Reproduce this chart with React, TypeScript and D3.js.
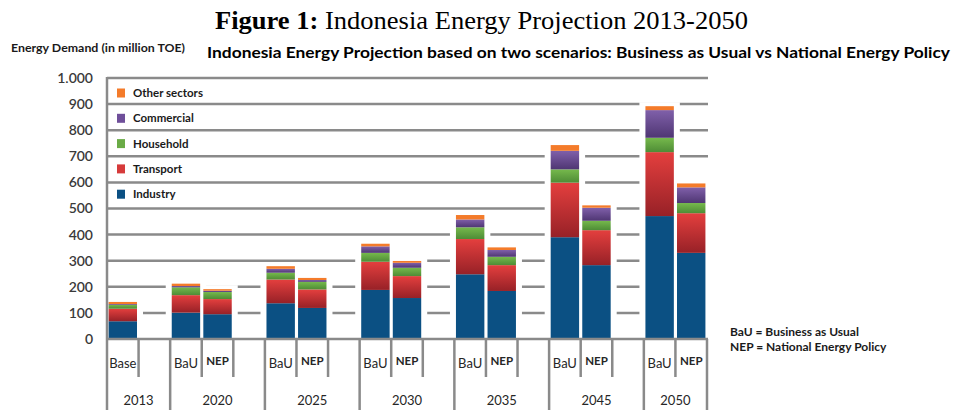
import { useEffect, useRef } from 'react';
import * as d3 from 'd3';

const years = ['2013', '2020', '2025', '2030', '2035', '2045', '2050'];
// scenario slots under each year, '' marks an empty spacer slot
const yearSlots = [
  ['Base', ''],
  ['BaU', 'NEP', ''],
  ['BaU', 'NEP', ''],
  ['BaU', 'NEP', ''],
  ['BaU', 'NEP', ''],
  ['BaU', 'NEP', ''],
  ['BaU', 'NEP'],
];

const barKeys = [
  '2013 Base', '2020 BaU', '2020 NEP', '2025 BaU', '2025 NEP', '2030 BaU', '2030 NEP',
  '2035 BaU', '2035 NEP', '2045 BaU', '2045 NEP', '2050 BaU', '2050 NEP',
];
const industry = [68, 101, 95, 137, 119, 188, 157, 248, 184, 390, 283, 471, 330];
const transport = [48, 67, 58, 91, 71, 108, 84, 135, 99, 209, 134, 245, 152];
const household = [15, 30, 27, 26, 29, 34, 32, 45, 32, 51, 36, 55, 39];
const commercial = [3, 5, 5, 15, 7, 25, 19, 30, 26, 71, 50, 106, 60];
const otherSectors = [8, 9, 6, 10, 8, 10, 7, 17, 10, 22, 9, 15, 15];

const sectors = ['Industry', 'Transport', 'Household', 'Commercial', 'Other sectors'];
const sectorValues = [industry, transport, household, commercial, otherSectors];
const sectorSwatch = ['#0b5083', '#d63a3a', '#6aab46', '#6f4f9a', '#f47b2a'];
const sectorTop = ['#0b5083', '#e43f3e', '#76b94c', '#8060aa', '#f47b2a'];
const sectorBottom = ['#0b5083', '#972127', '#4e8c36', '#4f3673', '#f47b2a'];

const yTicks = [0, 100, 200, 300, 400, 500, 600, 700, 800, 900, 1000];

const FONT = 'Lato, "Open Sans", sans-serif';
const GRID = '#8a8a8a';

export default function App() {
  const svgRef = useRef<SVGSVGElement>(null);
  const width = 954;
  const height = 410;

  useEffect(() => {
    if (!svgRef.current) return;
    const svg = d3.select(svgRef.current);
    svg.selectAll('*').remove();

    const slots: { key: string; year: string; label: string; yi: number; si: number }[] = [];
    years.forEach((y, yi) =>
      yearSlots[yi].forEach((s, si) =>
        slots.push({ key: s ? `${y} ${s}` : `${y} _${si}`, year: y, label: s, yi, si })
      )
    );

    const x = d3.scaleBand().domain(slots.map(d => d.key)).range([107, 707]).padding(0);
    const y = d3.scaleLinear().domain([0, 1000]).range([339, 78]);
    const fmt = d3.formatLocale({ decimal: ',', thousands: '.', grouping: [3], currency: ['', ''] }).format(',');

    // gradients
    const defs = svg.append('defs');
    sectors.forEach((s, i) => {
      const g = defs.append('linearGradient')
        .attr('id', `grad${i}`)
        .attr('x1', 0).attr('y1', 0).attr('x2', 0).attr('y2', 1);
      g.append('stop').attr('offset', '0%').attr('stop-color', sectorTop[i]);
      g.append('stop').attr('offset', '100%').attr('stop-color', sectorBottom[i]);
    });

    // gridlines
    svg.append('g')
      .selectAll('line')
      .data(yTicks.filter(t => t > 0))
      .enter().append('line')
      .attr('x1', 107).attr('x2', 708)
      .attr('y1', d => y(d)).attr('y2', d => y(d))
      .attr('stroke', GRID).attr('stroke-width', 2.5);

    // stacked data
    const rows = barKeys.map((k, i) => {
      const r: any = { key: k };
      sectors.forEach((s, j) => { r[s] = sectorValues[j][i]; });
      return r;
    });
    const stacked = d3.stack().keys(sectors)(rows);
    const bw = x.bandwidth() * 0.9;
    const off = (x.bandwidth() - bw) / 2;

    // white halo behind bars
    svg.append('g')
      .selectAll('rect')
      .data(rows)
      .enter().append('rect')
      .attr('x', d => (x(d.key) || 0) + off - 6)
      .attr('width', bw + 12)
      .attr('y', (d, i) => y(stacked[stacked.length - 1][i][1]) - 4)
      .attr('height', (d, i) => y(0) - y(stacked[stacked.length - 1][i][1]) + 4)
      .attr('fill', '#fff');

    const layers = svg.append('g');
    stacked.forEach((layer, li) => {
      layers.append('g')
        .attr('fill', `url(#grad${li})`)
        .selectAll('rect')
        .data(layer)
        .enter().append('rect')
        .attr('x', d => (x(d.data.key as string) || 0) + off)
        .attr('width', bw)
        .attr('y', d => y(d[1]))
        .attr('height', d => y(d[0]) - y(d[1]));
    });

    // axes
    svg.append('line')
      .attr('x1', 107).attr('x2', 107).attr('y1', y(1000) - 1).attr('y2', height)
      .attr('stroke', GRID).attr('stroke-width', 2.5);
    svg.append('line')
      .attr('x1', 107).attr('x2', 708).attr('y1', y(0)).attr('y2', y(0))
      .attr('stroke', GRID).attr('stroke-width', 2.5);

    // separators under the axis
    const sepG = svg.append('g').attr('stroke', GRID).attr('stroke-width', 2.5);
    slots.forEach(s => {
      const xr = (x(s.key) || 0) + x.bandwidth();
      const last = s.si === yearSlots[s.yi].length - 1;
      sepG.append('line')
        .attr('x1', xr).attr('x2', xr)
        .attr('y1', y(0)).attr('y2', last ? height : 377);
    });

    // scenario labels
    svg.append('g')
      .selectAll('text')
      .data(slots.filter(s => s.label))
      .enter().append('text')
      .attr('x', d => (x(d.key) || 0) + x.bandwidth() / 2)
      .attr('y', d => (d.label === 'NEP' ? 361 : 363))
      .attr('dy', '0.35em')
      .attr('text-anchor', 'middle')
      .attr('font-family', FONT)
      .attr('font-size', d => (d.label === 'NEP' ? 11.5 : 13))
      .attr('font-weight', d => (d.label === 'NEP' ? 700 : 400))
      .attr('fill', '#262626')
      .text(d => d.label);

    // year labels
    svg.append('g')
      .selectAll('text')
      .data(years)
      .enter().append('text')
      .attr('x', (d, i) => {
        const ks = slots.filter(s => s.yi === i);
        const x0 = x(ks[0].key) || 0;
        const x1 = (x(ks[ks.length - 1].key) || 0) + x.bandwidth();
        return (x0 + x1) / 2;
      })
      .attr('y', 400)
      .attr('dy', '0.35em')
      .attr('text-anchor', 'middle')
      .attr('font-family', FONT)
      .attr('font-size', 13)
      .attr('fill', '#262626')
      .text(d => d);

    // y tick labels
    svg.append('g')
      .selectAll('text')
      .data(yTicks)
      .enter().append('text')
      .attr('x', 93)
      .attr('y', d => y(d))
      .attr('dy', '0.35em')
      .attr('text-anchor', 'end')
      .attr('font-family', FONT)
      .attr('font-size', 14)
      .attr('font-weight', 600)
      .attr('fill', '#3a3a3a')
      .text(d => fmt(d));

    // legend (top to bottom: reverse of stacking)
    const legend = svg.append('g');
    sectors.slice().reverse().forEach((s, i) => {
      const si = sectors.length - 1 - i;
      const cy = 93 + i * 25.3;
      legend.append('rect')
        .attr('x', 117).attr('y', cy - 4.5).attr('width', 8).attr('height', 9)
        .attr('fill', sectorSwatch[si]);
      legend.append('text')
        .attr('x', 133).attr('y', cy)
        .attr('dy', '0.35em')
        .attr('font-family', FONT)
        .attr('font-size', 11.5)
        .attr('font-weight', 700)
        .attr('fill', '#1a1a1a')
        .text(s);
    });

    // titles
    const t = svg.append('text')
      .attr('x', 215).attr('y', 29)
      .attr('font-family', '"Liberation Serif", "Times New Roman", serif')
      .attr('font-size', 25)
      .attr('fill', '#000')
      .attr('textLength', 533)
      .attr('lengthAdjust', 'spacingAndGlyphs');
    t.append('tspan').attr('font-weight', 700).text('Figure 1:');
    t.append('tspan').text(' Indonesia Energy Projection 2013-2050');

    svg.append('text')
      .attr('x', 207).attr('y', 53)
      .attr('dy', '0.35em')
      .attr('font-family', FONT)
      .attr('font-size', 15)
      .attr('font-weight', 700)
      .attr('fill', '#000')
      .attr('textLength', 743)
      .attr('lengthAdjust', 'spacingAndGlyphs')
      .text('Indonesia Energy Projection based on two scenarios: Business as Usual vs National Energy Policy');

    svg.append('text')
      .attr('x', 11).attr('y', 48)
      .attr('dy', '0.35em')
      .attr('font-family', FONT)
      .attr('font-size', 11)
      .attr('font-weight', 700)
      .attr('fill', '#1a1a1a')
      .attr('textLength', 174)
      .attr('lengthAdjust', 'spacingAndGlyphs')
      .text('Energy Demand (in million TOE)');

    const notes = ['BaU = Business as Usual', 'NEP = National Energy Policy'];
    svg.append('g')
      .selectAll('text')
      .data(notes)
      .enter().append('text')
      .attr('x', 730)
      .attr('y', (d, i) => 332 + i * 15)
      .attr('dy', '0.35em')
      .attr('font-family', FONT)
      .attr('font-size', 12)
      .attr('font-weight', 700)
      .attr('fill', '#1a1a1a')
      .text(d => d);
  }, []);

  return (
    <div style={{ position: 'absolute', left: 0, top: 0 }}>
      <svg ref={svgRef} width={width} height={height} style={{ display: 'block', background: '#fff' }} />
    </div>
  );
}
